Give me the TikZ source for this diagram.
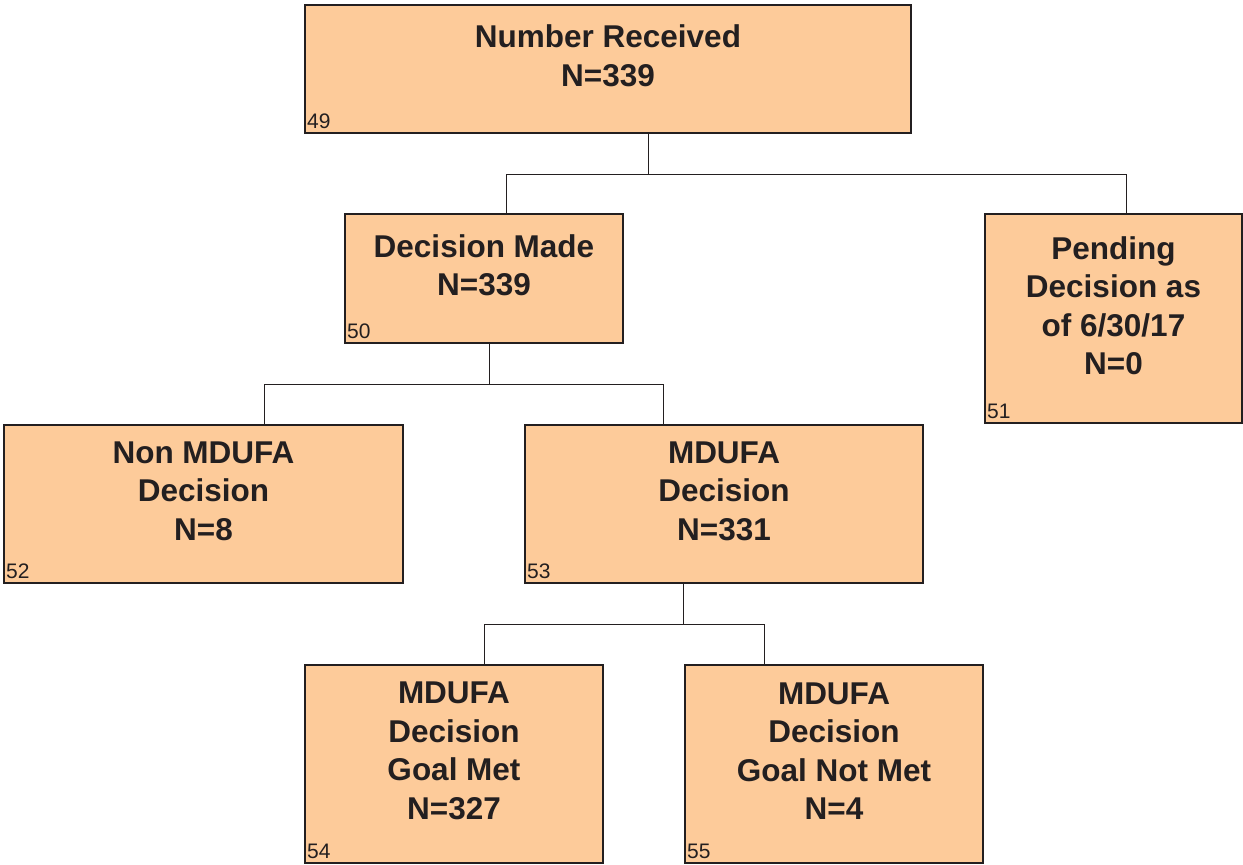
\documentclass[tikz,border=0pt]{standalone}
\usepackage{fontspec}
\setmainfont{Liberation Sans}
\definecolor{boxfill}{HTML}{FDCB9A}
\definecolor{ink}{HTML}{231F20}
\begin{document}
\begin{tikzpicture}[x=1pt,y=-1pt,
  box/.style={draw=ink,fill=boxfill,line width=1.3pt},
  ttl/.style={text=ink,align=center,font=\fontsize{31.5}{38.5}\selectfont\bfseries,inner sep=0pt},
  num/.style={text=ink,font=\fontsize{21}{24}\selectfont,anchor=south west,inner sep=0pt},
  conn/.style={draw=ink,line width=1pt}]
\useasboundingbox (0,0) rectangle (1243,865);
% boxes: name, x1,y1,x2,y2
\newcommand{\mybox}[7]{%
  \path[box] (#2,#3) rectangle (#4,#5);
  \coordinate (#1) at ({(#2+#4)/2},{(#3+#5)/2});
  \coordinate (#1-n) at ({(#2+#4)/2},#3);
  \coordinate (#1-s) at ({(#2+#4)/2},#5);
  \node[ttl] (#1-t) at ({(#2+#4)/2},{(#3+#5)/2-13}) {#6};
  \node[num] (#1-k) at (#2+2,#5-4) {#7};
}
\mybox{top}{305}{5}{911}{133}{Number Received\\N=339}{49}
\mybox{dm}{345}{214}{623}{343}{Decision Made\\N=339}{50}
\mybox{pd}{985}{214}{1242}{423}{Pending\\Decision as\\of 6/30/17\\N=0}{51}
\mybox{non}{4}{425}{403}{583}{Non MDUFA\\Decision\\N=8}{52}
\mybox{md}{525}{425}{923}{583}{MDUFA\\Decision\\N=331}{53}
\mybox{gm}{305}{665}{603}{863}{MDUFA\\Decision\\Goal Met\\N=327}{54}
\mybox{gn}{685}{665}{983}{863}{MDUFA\\Decision\\Goal Not Met\\N=4}{55}
% connectors
\coordinate (a0) at (648,133);
\coordinate (a1) at (648,174);
\coordinate (a2) at (506,174);
\coordinate (a3) at (1126,174);
\draw[conn] (a0) -- (a1);
\draw[conn] (a2) -- (a3);
\draw[conn] (a2) -- (506,214);
\draw[conn] (a3) -- (1126,214);
\coordinate (b0) at (489,343);
\coordinate (b1) at (489,384);
\coordinate (b2) at (264,384);
\coordinate (b3) at (663,384);
\draw[conn] (b0) -- (b1);
\draw[conn] (b2) -- (b3);
\draw[conn] (b2) -- (264,425);
\draw[conn] (b3) -- (663,425);
\coordinate (c0) at (683,583);
\coordinate (c1) at (683,624);
\coordinate (c2) at (484,624);
\coordinate (c3) at (764,624);
\draw[conn] (c0) -- (c1);
\draw[conn] (c2) -- (c3);
\draw[conn] (c2) -- (484,665);
\draw[conn] (c3) -- (764,665);
\end{tikzpicture}
\end{document}
